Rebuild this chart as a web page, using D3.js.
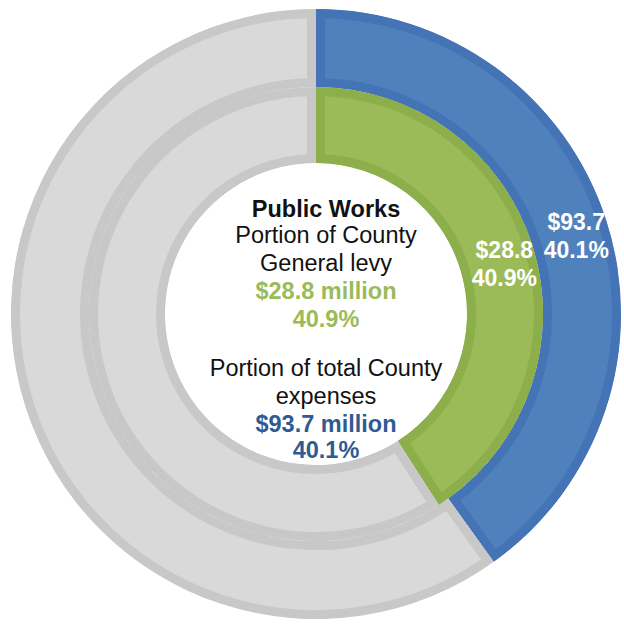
<!DOCTYPE html>
<html>
<head>
<meta charset="utf-8">
<script src="https://cdn.jsdelivr.net/npm/d3@7"></script>
<style>
  html, body { margin: 0; padding: 0; background: #ffffff; }
  svg { display: block; }
  text { font-family: "Liberation Sans", Arial, sans-serif; }
</style>
</head>
<body>
<svg id="chart" width="624" height="624"></svg>
<script>
// Public Works share of the County budget, as two nested doughnut rings
const rings = ["Portion of total County expenses", "Portion of County General levy"];
const segments = ["Public Works", "Other"];
const expenseShare = [40.1, 59.9];   // outer ring, %
const levyShare = [40.9, 59.1];      // inner ring, %
const amounts = [93.7, 28.8];        // $ million: expenses, levy

const centerLines = [
  { text: "Public Works", kind: "title" },
  { text: "Portion of County", kind: "body" },
  { text: "General levy", kind: "body" },
  { text: "$28.8 million", kind: "levy" },
  { text: "40.9%", kind: "levy" },
  { text: "Portion of total County", kind: "body" },
  { text: "expenses", kind: "body" },
  { text: "$93.7 million", kind: "expense" },
  { text: "40.1%", kind: "expense" }
];

const W = 624, H = 624;
const cx = 316, cy = 314;
const edge = 9; // visible width of each slice's inner border

const palette = {
  expense: { fill: "#4f81bd", stroke: "#4574b6" },
  levy: { fill: "#9bbb59", stroke: "#8daf4b" },
  other: { fill: "#d9d9d9", stroke: "#c8c8c8" }
};
const textColors = { title: "#111111", body: "#111111", levy: "#9bbb59", expense: "#2f5b93" };

const svg = d3.select("#chart");
const defs = svg.append("defs");
const g = svg.append("g").attr("transform", `translate(${cx},${cy})`);

const pie = d3.pie().sort(null).value(d => d);

const ringSpecs = [
  { name: rings[0], values: expenseShare, inner: 227, outer: 305, key: "expense", amount: amounts[0] },
  { name: rings[1], values: levyShare, inner: 151, outer: 227, key: "levy", amount: amounts[1] }
];

ringSpecs.forEach((ring, ri) => {
  const arc = d3.arc().innerRadius(ring.inner).outerRadius(ring.outer);
  const arcs = pie(ring.values);
  const layer = g.append("g").attr("class", "ring ring-" + ri);

  arcs.forEach((a, si) => {
    const id = `clip-${ri}-${si}`;
    const d = arc(a);
    // the clip shares the slice's own coordinate system, keeping the border inside
    defs.append("clipPath").attr("id", id).append("path").attr("d", d);
    const col = si === 0 ? palette[ring.key] : palette.other;
    layer.append("path")
      .attr("d", d)
      .attr("clip-path", `url(#${id})`)
      .attr("fill", col.fill)
      .attr("stroke", col.stroke)
      .attr("stroke-width", edge * 2)
      .attr("stroke-linejoin", "miter");
  });

  // value label on the highlighted slice
  const c = arc.centroid(arcs[0]);
  const lx = c[0] + 7;
  const lbl = g.append("text")
    .attr("x", lx)
    .attr("y", c[1])
    .attr("text-anchor", "middle")
    .attr("fill", "#ffffff")
    .attr("font-weight", "bold")
    .attr("font-size", 23);
  lbl.append("tspan").attr("x", lx).attr("dy", "-0.1em").text("$" + ring.amount.toFixed(1));
  lbl.append("tspan").attr("x", lx).attr("dy", "1.2em").text(ring.values[0].toFixed(1) + "%");
});

// center text block
const baselines = [217, 243, 271, 299, 327, 376, 404, 432, 458];
const tx = 326;
centerLines.forEach((ln, i) => {
  svg.append("text")
    .attr("x", tx)
    .attr("y", baselines[i])
    .attr("text-anchor", "middle")
    .attr("fill", textColors[ln.kind])
    .attr("font-weight", ln.kind === "body" ? "normal" : "bold")
    .attr("font-size", 23.5)
    .text(ln.text);
});
</script>
</body>
</html>
